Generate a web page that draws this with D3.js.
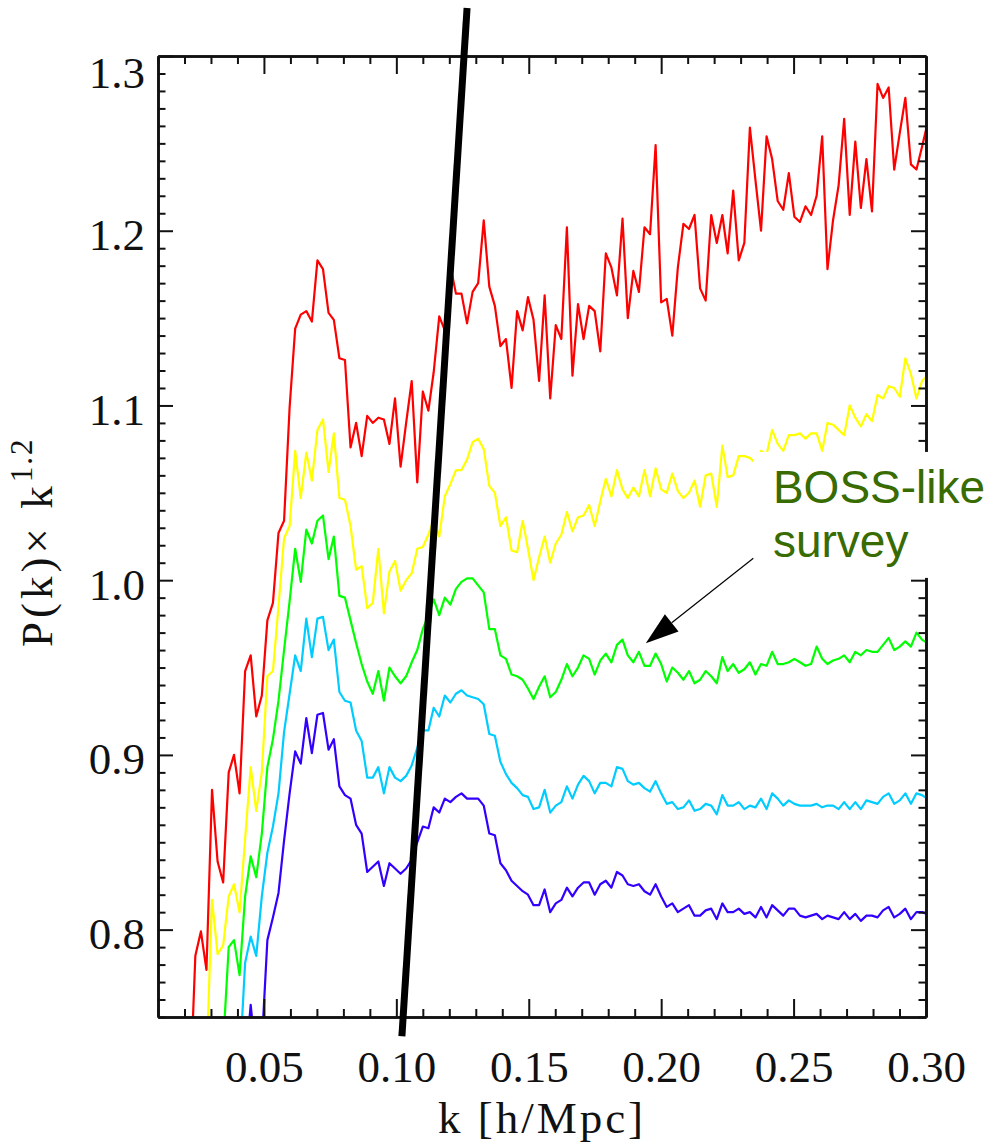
<!DOCTYPE html>
<html>
<head>
<meta charset="utf-8">
<script src="https://cdn.jsdelivr.net/npm/d3@7"></script>
<style>
  body { margin: 0; background: #fff; }
  svg { display: block; }
</style>
</head>
<body>
<script>

// bin centres, k [h/Mpc]  (box fundamental 2pi/3000, half-bin offset)
const kBins = [
  0.0115, 0.0136, 0.0157, 0.0178, 0.0199, 0.0220, 0.0241, 0.0262, 0.0283, 0.0304,
  0.0325, 0.0346, 0.0367, 0.0387, 0.0408, 0.0429, 0.0450, 0.0471, 0.0492, 0.0513,
  0.0534, 0.0555, 0.0576, 0.0597, 0.0618, 0.0639, 0.0660, 0.0681, 0.0702, 0.0723,
  0.0744, 0.0764, 0.0785, 0.0806, 0.0827, 0.0848, 0.0869, 0.0890, 0.0911, 0.0932,
  0.0953, 0.0974, 0.0995, 0.1016, 0.1037, 0.1058, 0.1079, 0.1100, 0.1121, 0.1141,
  0.1162, 0.1183, 0.1204, 0.1225, 0.1246, 0.1267, 0.1288, 0.1309, 0.1330, 0.1351,
  0.1372, 0.1393, 0.1414, 0.1435, 0.1456, 0.1477, 0.1497, 0.1518, 0.1539, 0.1560,
  0.1581, 0.1602, 0.1623, 0.1644, 0.1665, 0.1686, 0.1707, 0.1728, 0.1749, 0.1770,
  0.1791, 0.1812, 0.1833, 0.1854, 0.1874, 0.1895, 0.1916, 0.1937, 0.1958, 0.1979,
  0.2000, 0.2021, 0.2042, 0.2063, 0.2084, 0.2105, 0.2126, 0.2147, 0.2168, 0.2189,
  0.2210, 0.2231, 0.2251, 0.2272, 0.2293, 0.2314, 0.2335, 0.2356, 0.2377, 0.2398,
  0.2419, 0.2440, 0.2461, 0.2482, 0.2503, 0.2524, 0.2545, 0.2566, 0.2587, 0.2608,
  0.2628, 0.2649, 0.2670, 0.2691, 0.2712, 0.2733, 0.2754, 0.2775, 0.2796, 0.2817,
  0.2838, 0.2859, 0.2880, 0.2901, 0.2922, 0.2943, 0.2964, 0.2985, 0.3005
];

// P(k) x k^1.2, one array per curve (top to bottom)
const redVals = [
  0.690, 0.695, 0.690, 0.700, 0.695, 0.702, 0.785, 0.799, 0.777, 0.880,
  0.839, 0.827, 0.890, 0.900, 0.878, 0.948, 0.957, 0.922, 0.934, 0.977,
  0.987, 1.027, 1.034, 1.099, 1.144, 1.152, 1.154, 1.148, 1.183, 1.178,
  1.153, 1.149, 1.127, 1.126, 1.076, 1.090, 1.071, 1.094, 1.090, 1.093,
  1.092, 1.078, 1.104, 1.065, 1.090, 1.114, 1.056, 1.108, 1.097, 1.119,
  1.151, 1.143, 1.180, 1.164, 1.164, 1.147, 1.165, 1.170, 1.206, 1.168,
  1.157, 1.134, 1.138, 1.110, 1.154, 1.143, 1.162, 1.149, 1.114, 1.163,
  1.104, 1.146, 1.138, 1.202, 1.117, 1.158, 1.138, 1.157, 1.154, 1.131,
  1.187, 1.179, 1.163, 1.207, 1.150, 1.177, 1.165, 1.202, 1.198, 1.249,
  1.159, 1.161, 1.140, 1.179, 1.204, 1.201, 1.209, 1.167, 1.160, 1.209,
  1.193, 1.209, 1.187, 1.223, 1.183, 1.193, 1.259, 1.229, 1.200, 1.254,
  1.241, 1.217, 1.212, 1.233, 1.208, 1.205, 1.214, 1.209, 1.220, 1.254,
  1.178, 1.206, 1.226, 1.264, 1.209, 1.251, 1.213, 1.241, 1.211, 1.284,
  1.276, 1.282, 1.235, 1.256, 1.276, 1.238, 1.235, 1.248, 1.261
];
const yellowVals = [
  0.680, 0.685, 0.690, 0.690, 0.695, 0.700, 0.700, 0.705, 0.723, 0.817,
  0.786, 0.791, 0.819, 0.826, 0.810, 0.852, 0.893, 0.868, 0.890, 0.945,
  0.948, 0.985, 1.024, 1.031, 1.074, 1.047, 1.073, 1.057, 1.086, 1.092,
  1.062, 1.084, 1.047, 1.046, 1.031, 1.006, 1.008, 0.984, 0.987, 1.018,
  0.981, 1.005, 1.011, 0.994, 1.000, 1.004, 1.018, 1.019, 1.026, 1.035,
  1.025, 1.048, 1.055, 1.063, 1.063, 1.069, 1.079, 1.081, 1.075, 1.054,
  1.050, 1.031, 1.036, 1.017, 1.016, 1.034, 1.018, 1.000, 1.013, 1.025,
  1.010, 1.021, 1.026, 1.039, 1.028, 1.036, 1.037, 1.043, 1.031, 1.045,
  1.058, 1.048, 1.063, 1.052, 1.047, 1.053, 1.048, 1.063, 1.048, 1.064,
  1.052, 1.050, 1.061, 1.051, 1.047, 1.050, 1.057, 1.042, 1.060, 1.061,
  1.042, 1.077, 1.059, 1.060, 1.071, 1.071, 1.070, 1.067, 1.074, 1.072,
  1.086, 1.078, 1.074, 1.083, 1.083, 1.084, 1.081, 1.084, 1.084, 1.074,
  1.090, 1.089, 1.086, 1.083, 1.100, 1.093, 1.088, 1.095, 1.091, 1.106,
  1.104, 1.111, 1.110, 1.105, 1.127, 1.118, 1.104, 1.114, 1.117
];
const greenVals = [
  0.670, 0.675, 0.680, 0.680, 0.685, 0.690, 0.690, 0.695, 0.700, 0.705,
  0.710, 0.734, 0.790, 0.794, 0.774, 0.819, 0.842, 0.830, 0.855, 0.893,
  0.909, 0.931, 0.960, 0.988, 1.018, 0.999, 1.029, 1.021, 1.034, 1.037,
  1.012, 1.025, 0.991, 0.990, 0.977, 0.964, 0.952, 0.942, 0.935, 0.948,
  0.931, 0.950, 0.945, 0.941, 0.945, 0.953, 0.960, 0.972, 0.980, 0.989,
  0.980, 0.990, 0.986, 0.995, 0.999, 1.001, 1.001, 0.997, 0.993, 0.972,
  0.972, 0.957, 0.955, 0.946, 0.945, 0.943, 0.938, 0.932, 0.939, 0.945,
  0.933, 0.936, 0.943, 0.952, 0.945, 0.950, 0.957, 0.955, 0.946, 0.954,
  0.958, 0.953, 0.963, 0.966, 0.957, 0.953, 0.959, 0.951, 0.951, 0.958,
  0.952, 0.942, 0.950, 0.947, 0.943, 0.948, 0.941, 0.943, 0.948, 0.945,
  0.941, 0.956, 0.948, 0.952, 0.947, 0.949, 0.953, 0.946, 0.952, 0.951,
  0.959, 0.952, 0.952, 0.953, 0.955, 0.953, 0.951, 0.952, 0.962, 0.955,
  0.952, 0.954, 0.955, 0.957, 0.953, 0.959, 0.957, 0.960, 0.959, 0.959,
  0.963, 0.967, 0.960, 0.962, 0.965, 0.962, 0.970, 0.966, 0.964
];
const cyanVals = [
  0.660, 0.665, 0.670, 0.670, 0.675, 0.680, 0.680, 0.685, 0.690, 0.690,
  0.695, 0.700, 0.700, 0.705, 0.722, 0.781, 0.796, 0.785, 0.819, 0.844,
  0.859, 0.878, 0.913, 0.935, 0.957, 0.948, 0.978, 0.956, 0.978, 0.979,
  0.960, 0.966, 0.936, 0.931, 0.930, 0.914, 0.908, 0.887, 0.887, 0.893,
  0.878, 0.893, 0.887, 0.885, 0.888, 0.894, 0.904, 0.914, 0.914, 0.927,
  0.922, 0.934, 0.930, 0.935, 0.937, 0.934, 0.933, 0.932, 0.929, 0.912,
  0.911, 0.896, 0.889, 0.884, 0.881, 0.877, 0.876, 0.869, 0.870, 0.880,
  0.867, 0.871, 0.873, 0.882, 0.875, 0.883, 0.888, 0.885, 0.878, 0.884,
  0.884, 0.882, 0.893, 0.892, 0.885, 0.883, 0.884, 0.881, 0.879, 0.885,
  0.878, 0.872, 0.873, 0.869, 0.870, 0.874, 0.868, 0.869, 0.872, 0.871,
  0.866, 0.877, 0.871, 0.871, 0.873, 0.869, 0.871, 0.870, 0.875, 0.869,
  0.878, 0.875, 0.871, 0.874, 0.872, 0.871, 0.871, 0.871, 0.872, 0.870,
  0.871, 0.871, 0.869, 0.873, 0.869, 0.873, 0.869, 0.874, 0.873, 0.872,
  0.876, 0.878, 0.872, 0.874, 0.878, 0.872, 0.878, 0.877, 0.875
];
const blueVals = [
  0.650, 0.655, 0.660, 0.660, 0.665, 0.670, 0.670, 0.675, 0.680, 0.680,
  0.685, 0.690, 0.690, 0.695, 0.700, 0.720, 0.757, 0.725, 0.734, 0.794,
  0.807, 0.821, 0.851, 0.878, 0.902, 0.895, 0.921, 0.901, 0.923, 0.924,
  0.903, 0.909, 0.882, 0.877, 0.875, 0.860, 0.855, 0.833, 0.836, 0.839,
  0.825, 0.838, 0.835, 0.832, 0.835, 0.840, 0.850, 0.859, 0.858, 0.870,
  0.867, 0.875, 0.873, 0.876, 0.878, 0.875, 0.875, 0.875, 0.871, 0.855,
  0.854, 0.838, 0.834, 0.828, 0.825, 0.822, 0.820, 0.814, 0.814, 0.823,
  0.810, 0.815, 0.817, 0.824, 0.819, 0.824, 0.827, 0.827, 0.820, 0.826,
  0.828, 0.824, 0.833, 0.831, 0.826, 0.825, 0.826, 0.822, 0.820, 0.826,
  0.819, 0.813, 0.815, 0.810, 0.812, 0.814, 0.808, 0.808, 0.811, 0.812,
  0.806, 0.815, 0.810, 0.810, 0.812, 0.809, 0.810, 0.807, 0.813, 0.807,
  0.814, 0.811, 0.808, 0.812, 0.812, 0.808, 0.807, 0.808, 0.809, 0.806,
  0.808, 0.807, 0.806, 0.810, 0.806, 0.809, 0.805, 0.808, 0.808, 0.807,
  0.811, 0.813, 0.807, 0.809, 0.812, 0.806, 0.810, 0.810, 0.809
];

const seriesVals = [redVals, yellowVals, greenVals, cyanVals, blueVals];
const seriesColors = ['#ff0000', '#ffff00', '#00ff00', '#00ccff', '#3300ff'];

// axes
const xDomain = [0.01, 0.30];
const yDomain = [0.75, 1.30];
const xMajor = [0.05, 0.10, 0.15, 0.20, 0.25, 0.30];
const yMajor = [0.8, 0.9, 1.0, 1.1, 1.2, 1.3];
const xTickLabels = ['0.05', '0.10', '0.15', '0.20', '0.25', '0.30'];
const yTickLabels = ['0.8', '0.9', '1.0', '1.1', '1.2', '1.3'];

// thick black marker line, in data units (k, value)
const cutLine = [[0.1267, 1.3275], [0.1021, 0.739]];

// annotation
const noteLines = ['BOSS-like', 'survey'];
const noteAnchor = [0.2422, 1.0442];
const noteBox = [[0.2347, 1.0734], [0.33, 1.0013]];
const arrowTail = [0.2348, 1.0125];
const arrowHead = [0.1942, 0.9639];


const width = 996,
  height = 1147;

const x = d3.scaleLinear().domain(xDomain).range([158, 926]);
const y = d3.scaleLinear().domain(yDomain).range([1017, 56]);

const svg = d3.select('body').append('svg')
  .attr('width', width)
  .attr('height', height);

svg.append('rect')
  .attr('width', width)
  .attr('height', height)
  .attr('fill', '#fff');

svg.append('clipPath').attr('id', 'plotClip')
  .append('rect')
  .attr('x', x(xDomain[0]))
  .attr('y', y(yDomain[1]))
  .attr('width', x(xDomain[1]) - x(xDomain[0]))
  .attr('height', y(yDomain[0]) - y(yDomain[1]));

// curves
const line = d3.line()
  .x(function(d, i) { return x(kBins[i]); })
  .y(function(d) { return y(d); });

svg.append('g')
  .attr('clip-path', 'url(#plotClip)')
  .selectAll('path')
  .data(seriesVals)
  .enter()
  .append('path')
  .attr('d', line)
  .attr('fill', 'none')
  .attr('stroke', function(d, i) { return seriesColors[i]; })
  .attr('stroke-width', 2.2)
  .attr('stroke-linejoin', 'round');

// minor ticks every 0.01 on both axes
const xMinor = d3.range(1, 31).map(function(i) { return i / 100; })
  .filter(function(v) { return xMajor.indexOf(v) < 0; });
const yMinor = d3.range(75, 131).map(function(i) { return i / 100; })
  .filter(function(v) { return yMajor.indexOf(v) < 0; });

var drawAxis = function(axisFn, scale, pos, values, size, labels) {
  let g = svg.append('g')
    .attr('transform', pos)
    .call(axisFn(scale)
      .tickValues(values)
      .tickSizeInner(-size)
      .tickSizeOuter(0)
      .tickFormat(function(d, i) { return labels ? labels[i] : ''; }));
  g.select('.domain').attr('stroke', '#111').attr('stroke-width', 2.6);
  g.selectAll('.tick line').attr('stroke', '#111').attr('stroke-width', 2);
  return g;
};

const bottomY = 'translate(0,' + y(yDomain[0]) + ')';
const topY = 'translate(0,' + y(yDomain[1]) + ')';
const leftX = 'translate(' + x(xDomain[0]) + ',0)';
const rightX = 'translate(' + x(xDomain[1]) + ',0)';

drawAxis(d3.axisBottom, x, bottomY, xMinor, 8);
drawAxis(d3.axisTop, x, topY, xMinor, 8);
drawAxis(d3.axisTop, x, topY, xMajor, 18);
drawAxis(d3.axisLeft, y, leftX, yMinor, 7.5);
drawAxis(d3.axisRight, y, rightX, yMinor, 7.5);
drawAxis(d3.axisRight, y, rightX, yMajor, 15);

const xAxisG = drawAxis(d3.axisBottom, x, bottomY, xMajor, 18, xTickLabels);
xAxisG.selectAll('text')
  .attr('y', 65)
  .attr('dy', null)
  .attr('fill', '#111')
  .style('font-family', '"Liberation Serif", serif')
  .style('font-size', '45px');

const yAxisG = drawAxis(d3.axisLeft, y, leftX, yMajor, 15, yTickLabels);
yAxisG.selectAll('text')
  .attr('x', -13)
  .attr('dy', null)
  .attr('y', function(d) { return d === yDomain[1] ? 31 : 19; })  // top label sits lower
  .attr('fill', '#111')
  .style('font-family', '"Liberation Serif", serif')
  .style('font-size', '45px');

// axis titles
svg.append('text')
  .attr('x', (x(xDomain[0]) + x(xDomain[1])) / 2)
  .attr('y', 1133)
  .attr('text-anchor', 'middle')
  .attr('fill', '#111')
  .style('font-family', '"Liberation Serif", serif')
  .style('font-size', '45px')
  .style('letter-spacing', '3px')
  .text('k [h/Mpc]');

const yTitle = svg.append('text')
  .attr('transform', 'translate(52,647) rotate(-90)')
  .attr('fill', '#111')
  .style('font-family', '"Liberation Serif", serif')
  .style('font-size', '45px')
  .style('letter-spacing', '4px');
yTitle.append('tspan').text('P(k)\u00d7 k');
yTitle.append('tspan')
  .attr('dy', -20)
  .style('font-size', '31px')
  .style('letter-spacing', '2px')
  .text('1.2');

// thick black line
svg.append('line')
  .attr('x1', x(cutLine[0][0])).attr('y1', y(cutLine[0][1]))
  .attr('x2', x(cutLine[1][0])).attr('y2', y(cutLine[1][1]))
  .attr('stroke', '#000')
  .attr('stroke-width', 7);

// annotation box, text and arrow
svg.append('rect')
  .attr('x', x(noteBox[0][0]))
  .attr('y', y(noteBox[0][1]))
  .attr('width', x(noteBox[1][0]) - x(noteBox[0][0]))
  .attr('height', y(noteBox[1][1]) - y(noteBox[0][1]))
  .attr('fill', '#fff');

svg.append('text')
  .attr('x', x(noteAnchor[0]))
  .attr('y', y(noteAnchor[1]))
  .attr('fill', '#386b00')
  .style('font-family', '"Liberation Sans", Arial, sans-serif')
  .style('font-size', '46px')
  .selectAll('tspan')
  .data(noteLines)
  .enter()
  .append('tspan')
  .attr('x', x(noteAnchor[0]))
  .attr('dy', function(d, i) { return i ? 54 : 0; })
  .text(function(d) { return d; });

const ax0 = x(arrowTail[0]), ay0 = y(arrowTail[1]);
const ax1 = x(arrowHead[0]), ay1 = y(arrowHead[1]);
const ang = Math.atan2(ay1 - ay0, ax1 - ax0);
const headLen = 33, headHalf = 11;
const bx = ax1 - headLen * Math.cos(ang), by = ay1 - headLen * Math.sin(ang);

svg.append('line')
  .attr('x1', ax0).attr('y1', ay0)
  .attr('x2', bx).attr('y2', by)
  .attr('stroke', '#000')
  .attr('stroke-width', 1.2);

svg.append('path')
  .attr('d', 'M' + ax1 + ',' + ay1 +
    'L' + (bx + headHalf * Math.sin(ang)) + ',' + (by - headHalf * Math.cos(ang)) +
    'L' + (bx - headHalf * Math.sin(ang)) + ',' + (by + headHalf * Math.cos(ang)) + 'Z')
  .attr('fill', '#000');

</script>
</body>
</html>
